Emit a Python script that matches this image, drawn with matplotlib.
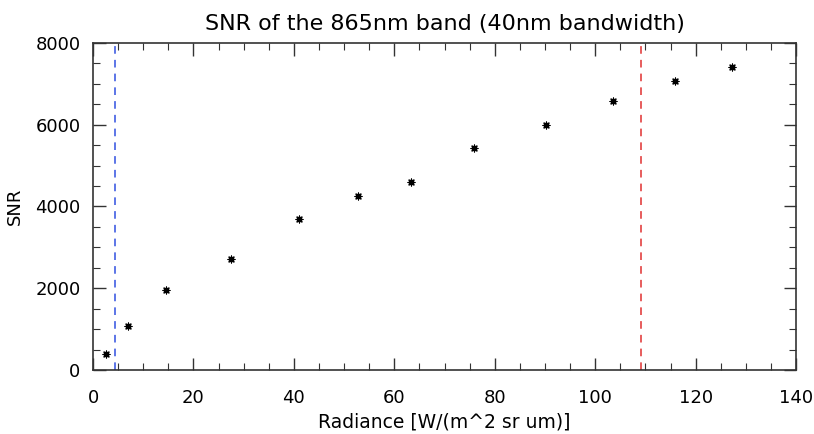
import matplotlib
matplotlib.use("Agg")
import matplotlib.pyplot as plt
from matplotlib.ticker import MultipleLocator

radiance = [2.6, 7.0, 14.5, 27.5, 41.0, 52.8, 63.3, 75.9, 90.2, 103.6, 115.9, 127.3]
snr = [400, 1080, 1950, 2720, 3700, 4250, 4600, 5420, 6000, 6570, 7080, 7400]
blue_line_x = 4.4
red_line_x = 109.2

fig = plt.figure(figsize=(8.14, 4.34), dpi=100)
ax = fig.add_axes([0.1143, 0.1475, 0.8637, 0.7535])

ax.scatter(radiance, snr, marker=(8, 2, 0), s=24, color="black", linewidths=0.9, zorder=3)
ax.axvline(blue_line_x, color="#3050e0", linestyle=(0, (5, 4)), linewidth=1.1)
ax.axvline(red_line_x, color="#e03030", linestyle=(0, (5, 4)), linewidth=1.1)

ax.set_xlim(0, 140)
ax.set_ylim(0, 8000)
ax.xaxis.set_major_locator(MultipleLocator(20))
ax.xaxis.set_minor_locator(MultipleLocator(5))
ax.yaxis.set_major_locator(MultipleLocator(2000))
ax.yaxis.set_minor_locator(MultipleLocator(500))
ax.tick_params(which="both", direction="in", top=True, right=True, color="#333333")
ax.tick_params(which="major", length=9, width=1.0, labelsize=13)
ax.tick_params(axis="x", which="major", pad=14)
ax.tick_params(axis="y", which="major", pad=9)
ax.tick_params(which="minor", length=5, width=0.8)
for s in ax.spines.values():
    s.set_linewidth(1.2)
    s.set_color("#333333")

ax.set_title("SNR of the 865nm band (40nm bandwidth)", fontsize=16, pad=9)
ax.set_xlabel("Radiance [W/(m^2 sr um)]", fontsize=13.5, labelpad=4)
ax.set_ylabel("SNR", fontsize=13, labelpad=8)

fig.savefig("out.png", dpi=100)
